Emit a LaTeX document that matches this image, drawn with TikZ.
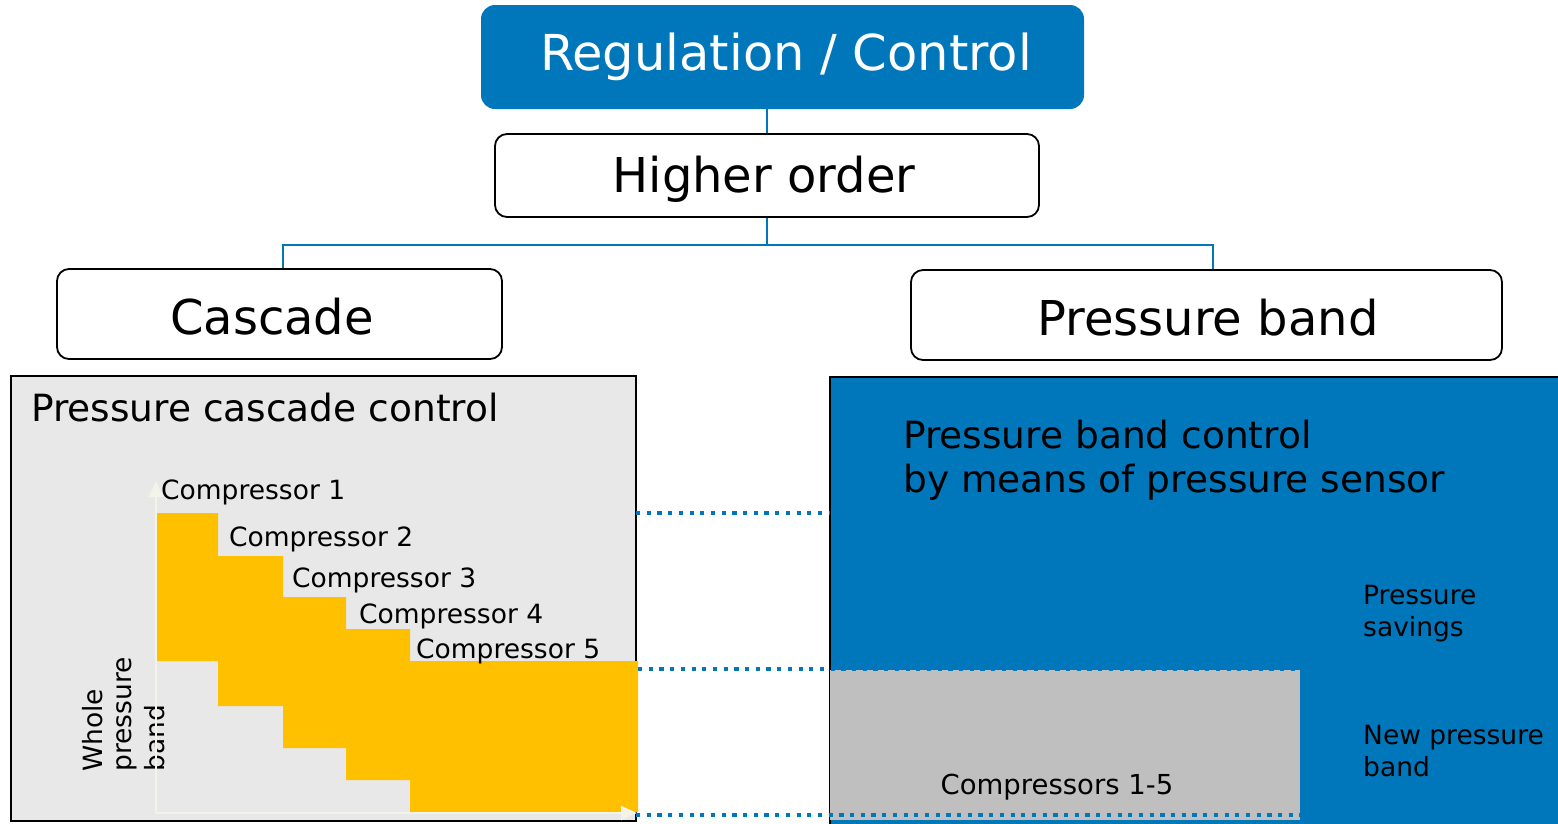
\documentclass[tikz,border=0pt]{standalone}
\usepackage{fontspec}
\setmainfont{DejaVu Sans}
\usetikzlibrary{arrows.meta}

\definecolor{ctrlblue}{RGB}{0,119,187}
\definecolor{panelgray}{RGB}{232,232,232}
\definecolor{bandgray}{RGB}{191,191,191}
\definecolor{stepyellow}{RGB}{255,192,0}
\definecolor{axiscream}{RGB}{244,243,232}

\tikzset{
  headbox/.style={rounded corners=14, fill=ctrlblue, draw=none, inner sep=0},
  levelbox/.style={rounded corners=12, fill=white, draw=black, line width=1.8, inner sep=0},
  panelbox/.style={draw=black, line width=2, inner sep=0},
  link/.style={draw=ctrlblue, line width=1.6},
  dotline/.style={draw=ctrlblue, line width=4.2, dash pattern=on 4.2 off 6.5},
  axisline/.style={draw=axiscream, line width=2.6, -{Triangle[length=16, width=14]}},
  bigtxt/.style={font=\fontsize{48}{56}\selectfont, inner sep=0, anchor=base},
  midtxt/.style={font=\fontsize{37.5}{44}\selectfont, inner sep=0, anchor=base west},
  smalltxt/.style={font=\fontsize{26.5}{32}\selectfont, inner sep=0, anchor=base west},
}

\begin{document}
\begin{tikzpicture}[x=1pt, y=-1pt]
\useasboundingbox (0,0) rectangle (1558,823);

% hierarchy boxes
\node[headbox, minimum width=603, minimum height=104] (reg) at (782.5,57) {};
\node[levelbox, minimum width=544, minimum height=83] (higher) at (767,175.5) {};
\node[levelbox, minimum width=445, minimum height=90] (cascade) at (279.5,314) {};
\node[levelbox, minimum width=591, minimum height=90] (pband) at (1206.5,315) {};

\node[bigtxt, text=white, font=\fontsize{49.5}{56}\selectfont] (reglbl) at (786,70) {Regulation / Control};
\node[bigtxt] (higherlbl) at (764,192) {Higher order};
\node[bigtxt] (cascadelbl) at (272,334) {Cascade};
\node[bigtxt] (pbandlbl) at (1208,335) {Pressure band};

% tree connectors
\coordinate (fork) at (767,245);
\coordinate (forkl) at (283,245);
\coordinate (forkr) at (1213,245);
\draw[link] (reg.south -| fork) -- (higher.north -| fork);
\draw[link] (higher.south -| fork) -- (fork);
\draw[link] (cascade.north -| forkl) |- (fork) -| (pband.north -| forkr);

% left panel: cascade control
\node[panelbox, fill=panelgray, minimum width=625, minimum height=445] (lpanel) at (323.5,598.5) {};
\node[midtxt, anchor=base west] (lptitle) at (31,421) {Pressure cascade control};

% right panel: pressure band control
\node[panelbox, fill=ctrlblue, minimum width=740, minimum height=452] (rpanel) at (1200,603) {};
\node[panelbox, draw=none, fill=bandgray, minimum width=470, minimum height=150] (newband) at (1065,745) {};

% staircase of compressor switching levels
\fill[stepyellow] (157,513) -- (218,513) -- (218,556) -- (283,556) -- (283,597)
  -- (346,597) -- (346,629) -- (410,629) -- (410,661) -- (638,661) -- (638,812)
  -- (410,812) -- (410,780) -- (346,780) -- (346,748) -- (283,748) -- (283,706)
  -- (218,706) -- (218,661) -- (157,661) -- cycle;

\node[smalltxt] (c1) at (161,499) {Compressor  1};
\node[smalltxt] (c2) at (229,546) {Compressor  2};
\node[smalltxt] (c3) at (292,587) {Compressor  3};
\node[smalltxt] (c4) at (359,623) {Compressor  4};
\node[smalltxt] (c5) at (416,658) {Compressor  5};

% rotated axis label
\node[smalltxt, rotate=90] (whole) at (102,772) {Whole};
\node[smalltxt, rotate=90] (pressure) at (131,772) {pressure};
\node[smalltxt, rotate=90] (band) at (164,772) {band};

% axes, drawn over the label
\coordinate (origin) at (156,813);
\coordinate (ytip) at (156,481);
\coordinate (xtip) at (637,813);
\draw[axisline] (origin) -- (ytip);
\draw[axisline] (origin) -- (xtip);

% right panel texts
\node[midtxt] (rptitle1) at (903,448) {Pressure band control};
\node[midtxt] (rptitle2) at (903,492) {by means of pressure sensor};
\node[smalltxt] (sav1) at (1363,604) {Pressure};
\node[smalltxt] (sav2) at (1363,636) {savings};
\node[smalltxt] (nb1) at (1363,744) {New pressure};
\node[smalltxt] (nb2) at (1363,776) {band};
\node[smalltxt, anchor=base, font=\fontsize{27.5}{32}\selectfont] (comp15) at (1057,794) {Compressors 1-5};

% dotted level guides
\coordinate (d1l) at (636,513);
\coordinate (d2l) at (638,669);
\coordinate (d3l) at (636,815);
\draw[dotline] (d1l) -- (rpanel.west |- d1l);
\draw[dotline] (d2l) -- (newband.east |- d2l);
\draw[dotline] (d3l) -- (newband.east |- d3l);
\end{tikzpicture}
\end{document}
